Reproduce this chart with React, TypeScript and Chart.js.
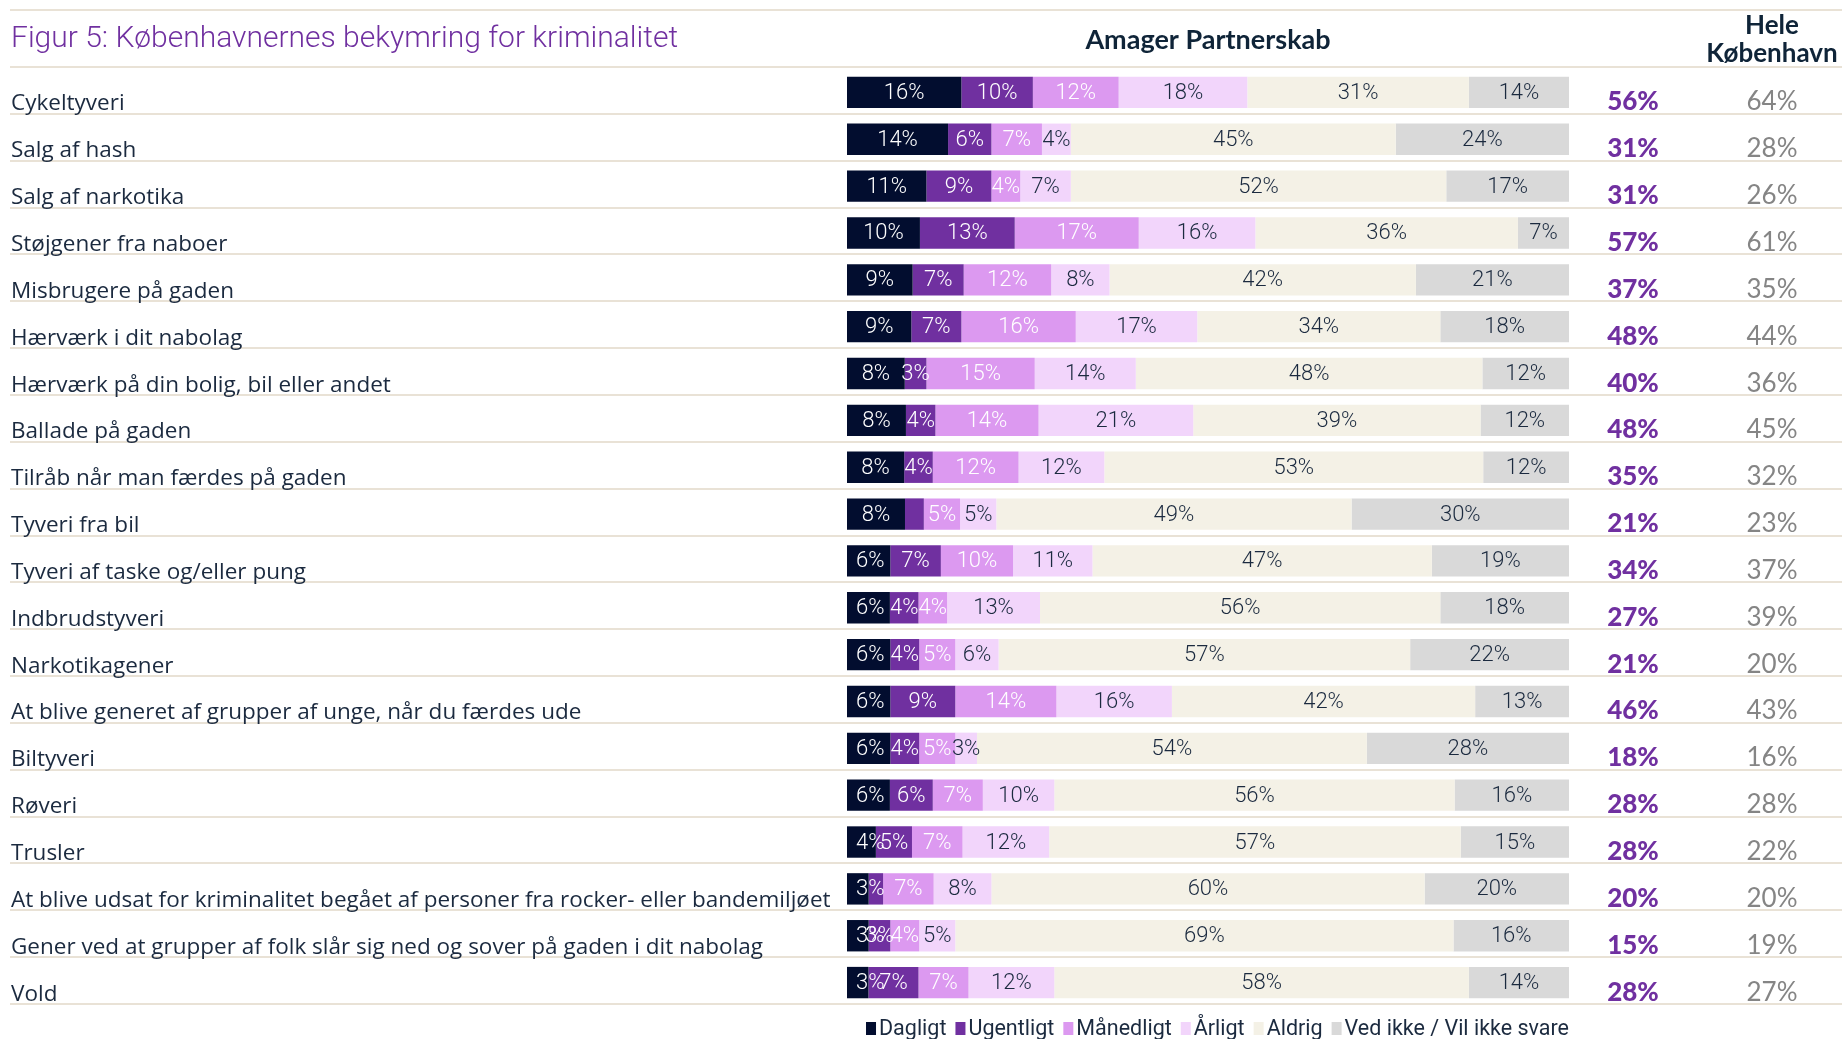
import React, { useEffect, useRef } from "react";
import { Chart, registerables } from "chart.js";

Chart.register(...registerables);

const title = "Figur 5: Københavnernes bekymring for kriminalitet";
const groupHeader = "Amager Partnerskab";
const cityHeader = ["Hele", "København"];

const categories = [
  "Cykeltyveri",
  "Salg af hash",
  "Salg af narkotika",
  "Støjgener fra naboer",
  "Misbrugere på gaden",
  "Hærværk i dit nabolag",
  "Hærværk på din bolig, bil eller andet",
  "Ballade på gaden",
  "Tilråb når man færdes på gaden",
  "Tyveri fra bil",
  "Tyveri af taske og/eller pung",
  "Indbrudstyveri",
  "Narkotikagener",
  "At blive generet af grupper af unge, når du færdes ude",
  "Biltyveri",
  "Røveri",
  "Trusler",
  "At blive udsat for kriminalitet begået af personer fra rocker- eller bandemiljøet",
  "Gener ved at grupper af folk slår sig ned og sover på gaden i dit nabolag",
  "Vold",
];

const seriesNames = ["Dagligt", "Ugentligt", "Månedligt", "Årligt", "Aldrig", "Ved ikke / Vil ikke svare"];

const dagligt = [16, 14, 11, 10, 9, 9, 8, 8, 8, 8, 6, 6, 6, 6, 6, 6, 4, 3, 3, 3];
const ugentligt = [10, 6, 9, 13, 7, 7, 3, 4, 4, 2.6, 7, 4, 4, 9, 4, 6, 5, 2, 3, 7];
const maanedligt = [12, 7, 4, 17, 12, 16, 15, 14, 12, 5, 10, 4, 5, 14, 5, 7, 7, 7, 4, 7];
const aarligt = [18, 4, 7, 16, 8, 17, 14, 21, 12, 5, 11, 13, 6, 16, 3, 10, 12, 8, 5, 12];
const aldrig = [31, 45, 52, 36, 42, 34, 48, 39, 53, 49, 47, 56, 57, 42, 54, 56, 57, 60, 69, 58];
const vedIkke = [14, 24, 17, 7, 21, 18, 12, 12, 12, 30, 19, 18, 22, 13, 28, 16, 15, 20, 16, 14];

const amagerTotal = [56, 31, 31, 57, 37, 48, 40, 48, 35, 21, 34, 27, 21, 46, 18, 28, 28, 20, 15, 28];
const heleKobenhavn = [64, 28, 26, 61, 35, 44, 36, 45, 32, 23, 37, 39, 20, 43, 16, 28, 22, 20, 19, 27];

const seriesValues = [dagligt, ugentligt, maanedligt, aarligt, aldrig, vedIkke];
const seriesColors = ["#020d2f", "#7030a0", "#dc99f0", "#f2d5fb", "#f4f1e6", "#d9d9d9"];
const labelColors = ["#ffffff", "#ffffff", "#ffffff", "#1b2a3f", "#1b2a3f", "#1b2a3f"];

const W = 1842;
const H = 1039;
const DARK = "#1b2a3f";
const LINE = "#e9e2d6";
const SHIFT = 2;

export default function App() {
  const ref = useRef<HTMLCanvasElement | null>(null);

  useEffect(() => {
    const canvas = ref.current;
    if (!canvas) return;

    const rowSums = categories.map((_, i) => seriesValues.reduce((s, arr) => s + arr[i], 0));

    const datasets = seriesNames.map((name, k) => ({
      label: name,
      data: seriesValues[k].map((v, i) => (v / rowSums[i]) * 100),
      backgroundColor: seriesColors[k],
      borderWidth: 0,
      categoryPercentage: 1,
      barPercentage: 0.67,
    }));

    const decor = {
      id: "decor",
      beforeDatasetsDraw(chart: any) {
        const ctx = chart.ctx;
        const area = chart.chartArea;
        const band = (area.bottom - area.top) / categories.length;
        ctx.save();
        ctx.strokeStyle = LINE;
        ctx.lineWidth = 2;
        const ys = [10];
        for (let i = 0; i <= categories.length; i++) ys.push(area.top - SHIFT + i * band);
        ys.forEach((y) => {
          ctx.beginPath();
          ctx.moveTo(10, Math.round(y));
          ctx.lineTo(W, Math.round(y));
          ctx.stroke();
        });
        ctx.restore();
      },
      afterDatasetsDraw(chart: any) {
        const ctx = chart.ctx;
        const area = chart.chartArea;
        ctx.save();
        ctx.font = "300 22px Roboto";
        ctx.textAlign = "center";
        ctx.textBaseline = "middle";
        chart.data.datasets.forEach((ds: any, k: number) => {
          const meta = chart.getDatasetMeta(k);
          meta.data.forEach((bar: any, i: number) => {
            const v = seriesValues[k][i];
            if (v < 3) return;
            const txt = `${Math.round(v)}%`;
            const w = ctx.measureText(txt).width;
            let cx = (bar.x + bar.base) / 2;
            cx = Math.max(cx, area.left + 9 + w / 2);
            ctx.fillStyle = labelColors[k];
            ctx.fillText(txt, cx, bar.y + 1);
          });
        });
        ctx.restore();
      },
      afterDraw(chart: any) {
        const ctx = chart.ctx;
        const area = chart.chartArea;
        const yScale = chart.scales.y;
        ctx.save();

        // title
        ctx.fillStyle = "#7030a0";
        ctx.font = "300 30px Roboto";
        ctx.textAlign = "left";
        ctx.textBaseline = "alphabetic";
        ctx.fillText(title, 11, 47);

        // headers
        ctx.fillStyle = "#0f2438";
        ctx.font = "700 27px Lato";
        ctx.textAlign = "center";
        ctx.fillText(groupHeader, (area.left + area.right) / 2, 49);
        ctx.font = "700 26px Lato";
        ctx.fillText(cityHeader[0], 1772, 34);
        ctx.fillText(cityHeader[1], 1772, 62);

        // row labels and right columns
        categories.forEach((cat, i) => {
          const yc = yScale.getPixelForValue(i);
          const base = yc + 18;
          ctx.textAlign = "left";
          ctx.fillStyle = DARK;
          ctx.font = "400 22.5px 'Open Sans'";
          ctx.fillText(cat, 11, base);

          ctx.textAlign = "center";
          ctx.fillStyle = "#7030a0";
          ctx.font = "900 26px Lato";
          ctx.fillText(`${amagerTotal[i]}%`, 1633, base);

          ctx.fillStyle = "#858585";
          ctx.font = "400 26px Lato";
          ctx.fillText(`${heleKobenhavn[i]}%`, 1772, base);
        });

        // legend
        ctx.font = "400 21.5px Roboto";
        ctx.textAlign = "left";
        const boxW = 10;
        const gapBox = 3;
        const gapItem = 9;
        const widths = seriesNames.map((n) => boxW + gapBox + ctx.measureText(n).width);
        const total = widths.reduce((a, b) => a + b, 0) + gapItem * (widths.length - 1);
        let x = area.right - total;
        const ly = 1035;
        seriesNames.forEach((n, k) => {
          ctx.fillStyle = seriesColors[k];
          ctx.fillRect(x, ly - 13, boxW, 13);
          ctx.fillStyle = DARK;
          ctx.fillText(n, x + boxW + gapBox, ly);
          x += widths[k] + gapItem;
        });

        ctx.restore();
      },
    };

    const chart = new Chart(canvas, {
      type: "bar",
      data: { labels: categories, datasets },
      options: {
        indexAxis: "y",
        responsive: false,
        maintainAspectRatio: false,
        devicePixelRatio: 1,
        animation: false,
        layout: { padding: { left: 847, right: W - 1569, top: 67 + SHIFT, bottom: H - 1004 - SHIFT } },
        scales: {
          x: { stacked: true, min: 0, max: 100, display: false },
          y: { stacked: true, display: false },
        },
        plugins: {
          legend: { display: false },
          tooltip: { enabled: false },
        },
      },
      plugins: [decor],
    } as any);

    return () => chart.destroy();
  }, []);

  return (
    <div style={{ position: "fixed", left: 0, top: 0, width: W, height: H, background: "#ffffff" }}>
      <canvas ref={ref} width={W} height={H} style={{ display: "block", width: W, height: H }} />
    </div>
  );
}
